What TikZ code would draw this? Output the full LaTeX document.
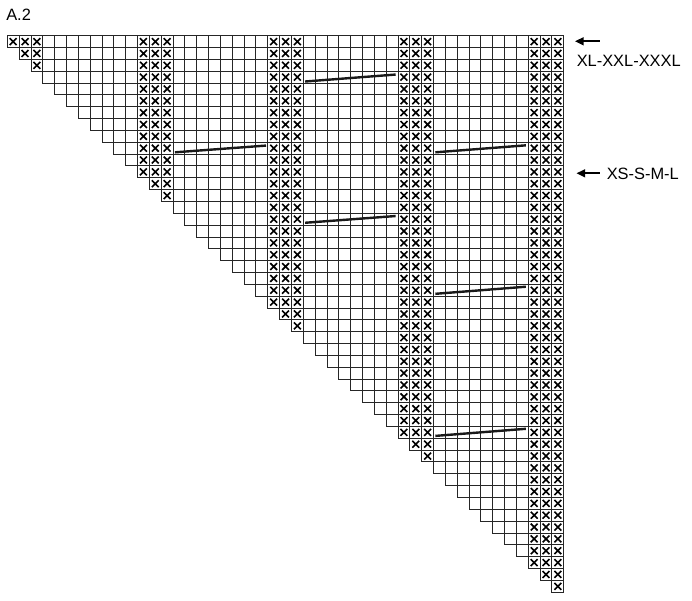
\documentclass[tikz,border=0pt]{standalone}
\usepackage{fontspec}
\setmainfont{Liberation Sans}
\usetikzlibrary{arrows.meta}
\tikzset{
  gridline/.style={draw=black!85, line width=0.7pt},
  xmark/.style={draw=black, line width=1.2pt},
  shortline/.style={draw=black!90, line width=1.8pt, line cap=butt},
  label/.style={font=\fontsize{12.3}{14}\selectfont, inner sep=0pt, anchor=base west},
  sizearrow/.style={draw=black, line width=1.3pt, -{Triangle[length=6.5pt,width=6pt]}}
}
\begin{document}
\begin{tikzpicture}[x=0.75pt,y=-0.75pt]
\useasboundingbox (0,0) rectangle (692,600);
\fill[white] (0,0) rectangle (692,600);
% chart
\begin{scope}[xshift=5.475pt, yshift=-26.775pt, x=8.88pt, y=-8.88pt]
  % cells
  \foreach \r in {1,...,47} {
    \foreach \c in {\r,...,47} {
      \draw[gridline] ({\c-1},{\r-1}) rectangle ({\c},{\r});
    }
  }
  % crosses in the five 3-column bands
  \foreach \c in {1,2,3,12,13,14,23,24,25,34,35,36,45,46,47} {
    \foreach \r in {1,...,\c} {
      \draw[xmark] ({\c-0.5-0.29},{\r-0.5-0.29}) -- ({\c-0.5+0.29},{\r-0.5+0.29})
                   ({\c-0.5-0.29},{\r-0.5+0.29}) -- ({\c-0.5+0.29},{\r-0.5-0.29});
    }
  }
  % slanted bars
  \draw[shortline] (25.15,3.87) -- (32.8,3.28);
  \draw[shortline] (14.15,9.85) -- (21.85,9.28);
  \draw[shortline] (36.15,9.85) -- (43.8,9.26);
  \draw[shortline] (25.15,15.8) -- (32.8,15.23);
  \draw[shortline] (36.15,21.8) -- (43.8,21.2);
  \draw[shortline] (36.15,33.8) -- (43.8,33.2);
\end{scope}
% labels
\node[label] (title) at (6,20) {A.2};
\node[label] (big) at (576.5,66.5) {XL-XXL-XXXL};
\node[label] (small) at (606.5,179.3) {XS-S-M-L};
\coordinate (bigS) at (599.5,41.3);
\coordinate (bigE) at (575,41.3);
\coordinate (smallS) at (599.5,173.3);
\coordinate (smallE) at (576.5,173.3);
\draw[sizearrow] (bigS) -- (bigE);
\draw[sizearrow] (smallS) -- (smallE);
\end{tikzpicture}
\end{document}
